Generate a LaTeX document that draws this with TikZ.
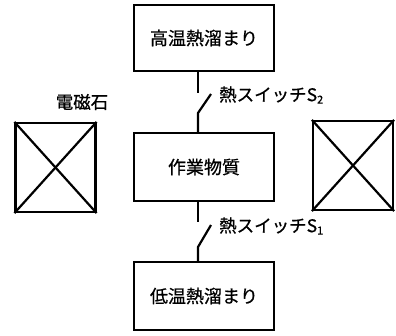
\documentclass[tikz,border=0pt]{standalone}
\usepackage{fontspec}
\setmainfont{Noto Sans CJK JP}[FakeBold=0.7]
\begin{document}
\begin{tikzpicture}[x=1pt,y=-1pt,
  box/.style={draw,line width=2.2pt,minimum width=140pt,minimum height=66pt,inner sep=0pt,font=\fontsize{18}{18}\selectfont},
  magnet/.style={draw,line width=2.2pt,minimum width=80pt,minimum height=89pt,inner sep=0pt},
  wire/.style={line width=2.2pt},
  lbl/.style={font=\fontsize{17.5}{18}\selectfont,inner sep=0pt,anchor=west}]
\useasboundingbox (0,0) rectangle (396,335);
\node[box] (hot) at (204,38) {高温熱溜まり};
\node[box,minimum height=68pt] (work) at (204,167) {作業物質};
\node[box,minimum height=68pt] (cold) at (204,296) {低温熱溜まり};
\node[magnet] (ml) at (55.5,167.5) {};
\node[magnet] (mr) at (353,165.5) {};
\draw[wire] (ml.north west) -- (ml.south east) (ml.north east) -- (ml.south west);
\draw[wire] (mr.north west) -- (mr.south east) (mr.north east) -- (mr.south west);
\node[font=\fontsize{17.5}{18}\selectfont,inner sep=0pt] (mlab) at (82,102) {電磁石};
% switch S2
\coordinate (h1) at (198,72);
\coordinate (s2a) at (198,93);
\coordinate (s2t) at (211,94);
\coordinate (s2b) at (198,113);
\coordinate (w1) at (198,133);
\draw[wire] (h1) -- (s2a);
\draw[wire] (s2t) -- (s2b) -- (w1);
\node[lbl] (s2lab) at (219,95) {熱スイッチS\raisebox{-0.25ex}{\fontsize{11}{11}\selectfont 2}};
% switch S1
\coordinate (w2) at (198,201);
\coordinate (s1a) at (198,222);
\coordinate (s1t) at (211,225);
\coordinate (s1b) at (198,247);
\coordinate (c1) at (198,262);
\draw[wire] (w2) -- (s1a);
\draw[wire] (s1t) -- (s1b) -- (c1);
\node[lbl] (s1lab) at (219,226) {熱スイッチS\raisebox{-0.25ex}{\fontsize{11}{11}\selectfont 1}};
\end{tikzpicture}
\end{document}
